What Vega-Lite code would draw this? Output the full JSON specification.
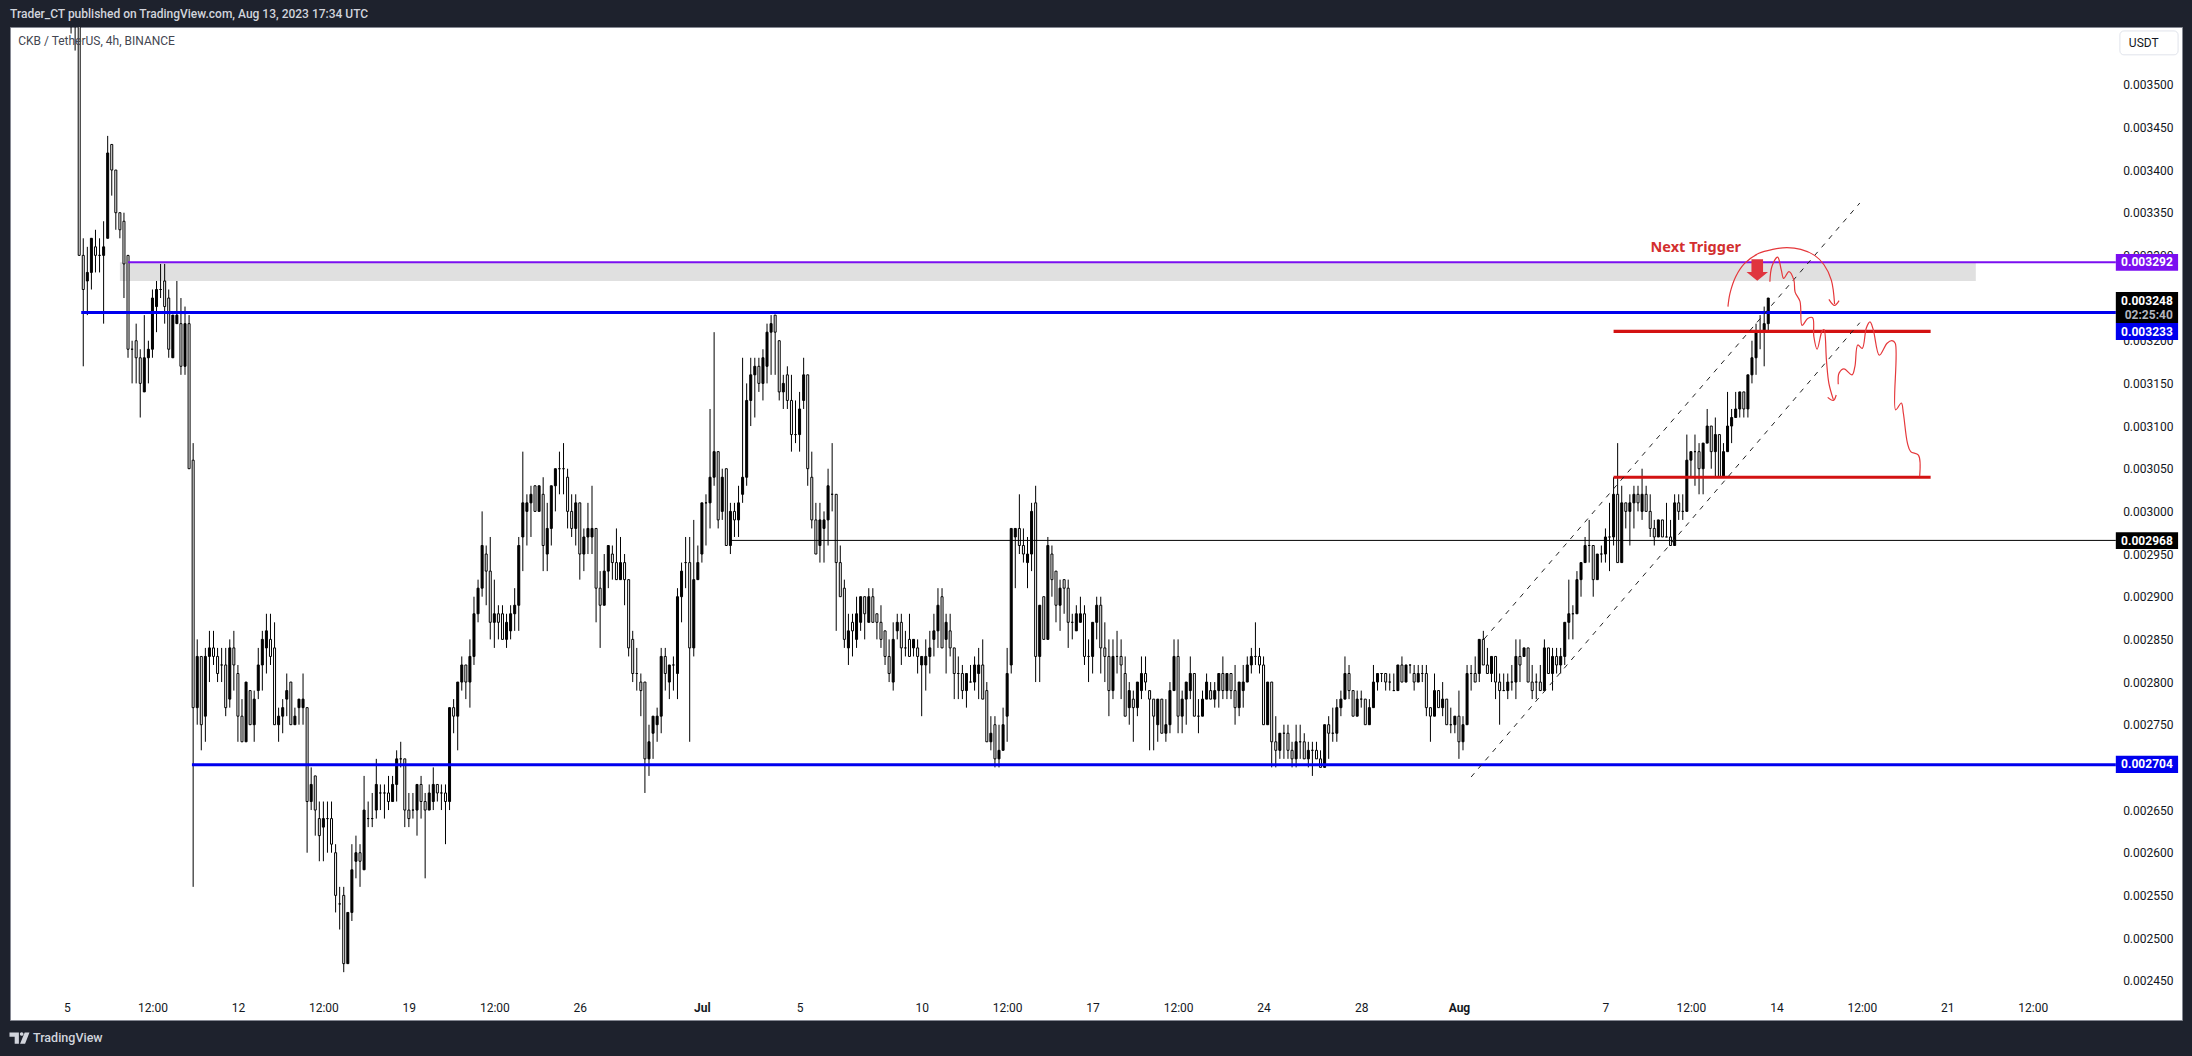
{"$schema":"https://vega.github.io/schema/vega-lite/v6.json","width":2172,"height":993,"autosize":{"type":"none"},"padding":{"left":10,"top":27,"right":10,"bottom":36},"background":"#1e222d","config":{"view":{"fill":"#ffffff","stroke":"#868993"},"font":"Roboto"},
"datasets":{"candles":[
{"b":1,"o":0.0036,"h":0.00365,"l":0.00356,"c":0.00362},
{"b":2,"o":0.00364,"h":0.00366,"l":0.00354,"c":0.00361},
{"b":3,"o":0.0038,"h":0.00385,"l":0.0033,"c":0.0033},
{"b":4,"o":0.0033,"h":0.00332,"l":0.00317,"c":0.00326},
{"b":5,"o":0.00327,"h":0.00331,"l":0.00323,"c":0.00328},
{"b":6,"o":0.00328,"h":0.00332,"l":0.00326,"c":0.00332},
{"b":7,"o":0.00331,"h":0.00333,"l":0.00328,"c":0.0033},
{"b":8,"o":0.0033,"h":0.00332,"l":0.00328,"c":0.0033},
{"b":9,"o":0.0033,"h":0.00334,"l":0.00322,"c":0.00331},
{"b":10,"o":0.00332,"h":0.00344,"l":0.00332,"c":0.00342},
{"b":11,"o":0.00343,"h":0.00343,"l":0.00337,"c":0.0034},
{"b":12,"o":0.0034,"h":0.0034,"l":0.00333,"c":0.00335},
{"b":13,"o":0.00335,"h":0.00335,"l":0.00332,"c":0.00333},
{"b":14,"o":0.00334,"h":0.00335,"l":0.00325,"c":0.00329},
{"b":15,"o":0.0033,"h":0.0033,"l":0.00318,"c":0.00319},
{"b":16,"o":0.00319,"h":0.0032,"l":0.00315,"c":0.00319},
{"b":17,"o":0.0032,"h":0.00322,"l":0.00315,"c":0.00318},
{"b":18,"o":0.00318,"h":0.00319,"l":0.00311,"c":0.00315},
{"b":19,"o":0.00314,"h":0.00323,"l":0.00314,"c":0.00318},
{"b":20,"o":0.00318,"h":0.0032,"l":0.00315,"c":0.00319},
{"b":21,"o":0.00319,"h":0.00326,"l":0.00318,"c":0.00325},
{"b":22,"o":0.00324,"h":0.00327,"l":0.00321,"c":0.00326},
{"b":23,"o":0.00326,"h":0.00329,"l":0.00325,"c":0.00326},
{"b":24,"o":0.00327,"h":0.00329,"l":0.00322,"c":0.00324},
{"b":25,"o":0.00325,"h":0.00326,"l":0.00318,"c":0.00319},
{"b":26,"o":0.00318,"h":0.00323,"l":0.00318,"c":0.00323},
{"b":27,"o":0.00322,"h":0.00327,"l":0.00322,"c":0.00323},
{"b":28,"o":0.00322,"h":0.00325,"l":0.00316,"c":0.00317},
{"b":29,"o":0.00317,"h":0.00324,"l":0.00316,"c":0.00322},
{"b":30,"o":0.00322,"h":0.00323,"l":0.00305,"c":0.00305},
{"b":31,"o":0.00306,"h":0.00308,"l":0.00256,"c":0.00277},
{"b":32,"o":0.00277,"h":0.00285,"l":0.00275,"c":0.00283},
{"b":33,"o":0.00283,"h":0.00283,"l":0.00272,"c":0.00275},
{"b":34,"o":0.00276,"h":0.00284,"l":0.00273,"c":0.00283},
{"b":35,"o":0.00283,"h":0.00286,"l":0.0028,"c":0.00284},
{"b":36,"o":0.00284,"h":0.00286,"l":0.00282,"c":0.00283},
{"b":37,"o":0.00283,"h":0.00284,"l":0.0028,"c":0.00281},
{"b":38,"o":0.00282,"h":0.00284,"l":0.0028,"c":0.00282},
{"b":39,"o":0.00282,"h":0.00284,"l":0.00276,"c":0.00277},
{"b":40,"o":0.00278,"h":0.00285,"l":0.00277,"c":0.00284},
{"b":41,"o":0.00284,"h":0.00286,"l":0.00279,"c":0.00282},
{"b":42,"o":0.00281,"h":0.00282,"l":0.00273,"c":0.00276},
{"b":43,"o":0.00276,"h":0.00278,"l":0.00273,"c":0.00273},
{"b":44,"o":0.00273,"h":0.0028,"l":0.00273,"c":0.0028},
{"b":45,"o":0.00279,"h":0.00279,"l":0.00275,"c":0.00275},
{"b":46,"o":0.00275,"h":0.00279,"l":0.00273,"c":0.00278},
{"b":47,"o":0.00279,"h":0.00284,"l":0.00278,"c":0.00282},
{"b":48,"o":0.00282,"h":0.00286,"l":0.00279,"c":0.00285},
{"b":49,"o":0.00284,"h":0.00288,"l":0.00281,"c":0.00286},
{"b":50,"o":0.00285,"h":0.00288,"l":0.00282,"c":0.00283},
{"b":51,"o":0.00284,"h":0.00287,"l":0.00275,"c":0.00275},
{"b":52,"o":0.00275,"h":0.00277,"l":0.00273,"c":0.00276},
{"b":53,"o":0.00276,"h":0.00278,"l":0.00274,"c":0.00277},
{"b":54,"o":0.00278,"h":0.00281,"l":0.00276,"c":0.00279},
{"b":55,"o":0.0028,"h":0.0028,"l":0.00275,"c":0.00275},
{"b":56,"o":0.00275,"h":0.00277,"l":0.00275,"c":0.00276},
{"b":57,"o":0.00277,"h":0.00278,"l":0.00275,"c":0.00278},
{"b":58,"o":0.00277,"h":0.00281,"l":0.00275,"c":0.00278},
{"b":59,"o":0.00277,"h":0.00277,"l":0.0026,"c":0.00266},
{"b":60,"o":0.00266,"h":0.0027,"l":0.00265,"c":0.00268},
{"b":61,"o":0.00269,"h":0.00269,"l":0.00262,"c":0.00265},
{"b":62,"o":0.00264,"h":0.00266,"l":0.00259,"c":0.00262},
{"b":63,"o":0.00263,"h":0.00266,"l":0.00259,"c":0.00264},
{"b":64,"o":0.00264,"h":0.00266,"l":0.0026,"c":0.00264},
{"b":65,"o":0.00264,"h":0.00266,"l":0.0026,"c":0.00261},
{"b":66,"o":0.0026,"h":0.00261,"l":0.00253,"c":0.00255},
{"b":67,"o":0.00254,"h":0.00256,"l":0.00251,"c":0.00254},
{"b":68,"o":0.00255,"h":0.00256,"l":0.00246,"c":0.00247},
{"b":69,"o":0.00247,"h":0.00253,"l":0.00247,"c":0.00253},
{"b":70,"o":0.00253,"h":0.00261,"l":0.00252,"c":0.00258},
{"b":71,"o":0.00259,"h":0.00262,"l":0.00257,"c":0.0026},
{"b":72,"o":0.0026,"h":0.00261,"l":0.00256,"c":0.00259},
{"b":73,"o":0.00258,"h":0.00269,"l":0.00258,"c":0.00265},
{"b":74,"o":0.00264,"h":0.00266,"l":0.00263,"c":0.00264},
{"b":75,"o":0.00264,"h":0.00267,"l":0.00263,"c":0.00264},
{"b":76,"o":0.00265,"h":0.00271,"l":0.00264,"c":0.00268},
{"b":77,"o":0.00267,"h":0.00268,"l":0.00265,"c":0.00267},
{"b":78,"o":0.00267,"h":0.00268,"l":0.00264,"c":0.00267},
{"b":79,"o":0.00267,"h":0.00269,"l":0.00265,"c":0.00266},
{"b":80,"o":0.00266,"h":0.00269,"l":0.00266,"c":0.00268},
{"b":81,"o":0.00268,"h":0.00272,"l":0.00266,"c":0.00271},
{"b":82,"o":0.00271,"h":0.00273,"l":0.0027,"c":0.00271},
{"b":83,"o":0.00271,"h":0.00271,"l":0.00263,"c":0.00265},
{"b":84,"o":0.00265,"h":0.00267,"l":0.00263,"c":0.00264},
{"b":85,"o":0.00265,"h":0.00267,"l":0.00264,"c":0.00265},
{"b":86,"o":0.00265,"h":0.00268,"l":0.00262,"c":0.00268},
{"b":87,"o":0.00268,"h":0.00269,"l":0.00264,"c":0.00266},
{"b":88,"o":0.00266,"h":0.00267,"l":0.00257,"c":0.00265},
{"b":89,"o":0.00265,"h":0.00268,"l":0.00265,"c":0.00267},
{"b":90,"o":0.00266,"h":0.0027,"l":0.00265,"c":0.00268},
{"b":91,"o":0.00268,"h":0.00268,"l":0.00266,"c":0.00267},
{"b":92,"o":0.00267,"h":0.00268,"l":0.00265,"c":0.00267},
{"b":93,"o":0.00267,"h":0.00268,"l":0.00261,"c":0.00266},
{"b":94,"o":0.00266,"h":0.00277,"l":0.00265,"c":0.00277},
{"b":95,"o":0.00277,"h":0.00278,"l":0.00274,"c":0.00276},
{"b":96,"o":0.00276,"h":0.0028,"l":0.00272,"c":0.0028},
{"b":97,"o":0.0028,"h":0.00283,"l":0.00279,"c":0.00282},
{"b":98,"o":0.00282,"h":0.00282,"l":0.00278,"c":0.0028},
{"b":99,"o":0.0028,"h":0.00285,"l":0.00277,"c":0.00283},
{"b":100,"o":0.00283,"h":0.0029,"l":0.00282,"c":0.00288},
{"b":101,"o":0.00288,"h":0.00292,"l":0.00287,"c":0.00291},
{"b":102,"o":0.00291,"h":0.003,"l":0.0029,"c":0.00296},
{"b":103,"o":0.00295,"h":0.00296,"l":0.00289,"c":0.00293},
{"b":104,"o":0.00293,"h":0.00297,"l":0.00285,"c":0.00287},
{"b":105,"o":0.00287,"h":0.00292,"l":0.00284,"c":0.00288},
{"b":106,"o":0.00288,"h":0.00289,"l":0.00285,"c":0.00287},
{"b":107,"o":0.00288,"h":0.00289,"l":0.00285,"c":0.00285},
{"b":108,"o":0.00285,"h":0.00288,"l":0.00284,"c":0.00287},
{"b":109,"o":0.00286,"h":0.00289,"l":0.00285,"c":0.00288},
{"b":110,"o":0.00288,"h":0.00291,"l":0.00286,"c":0.00289},
{"b":111,"o":0.00289,"h":0.00297,"l":0.00286,"c":0.00296},
{"b":112,"o":0.00297,"h":0.00307,"l":0.00293,"c":0.00301},
{"b":113,"o":0.003,"h":0.00302,"l":0.00296,"c":0.00301},
{"b":114,"o":0.00301,"h":0.00303,"l":0.00297,"c":0.00302},
{"b":115,"o":0.00303,"h":0.00303,"l":0.003,"c":0.003},
{"b":116,"o":0.003,"h":0.00303,"l":0.003,"c":0.00303},
{"b":117,"o":0.00302,"h":0.00304,"l":0.00293,"c":0.00296},
{"b":118,"o":0.00295,"h":0.00301,"l":0.00293,"c":0.00298},
{"b":119,"o":0.00298,"h":0.00303,"l":0.00296,"c":0.00303},
{"b":120,"o":0.00303,"h":0.00305,"l":0.003,"c":0.00305},
{"b":121,"o":0.00305,"h":0.00307,"l":0.00302,"c":0.00305},
{"b":122,"o":0.00305,"h":0.00308,"l":0.00302,"c":0.00305},
{"b":123,"o":0.00304,"h":0.00305,"l":0.00298,"c":0.003},
{"b":124,"o":0.003,"h":0.00302,"l":0.00297,"c":0.00298},
{"b":125,"o":0.00298,"h":0.00302,"l":0.00296,"c":0.00301},
{"b":126,"o":0.00301,"h":0.00301,"l":0.00292,"c":0.00295},
{"b":127,"o":0.00295,"h":0.00298,"l":0.00293,"c":0.00297},
{"b":128,"o":0.00297,"h":0.00301,"l":0.00295,"c":0.00298},
{"b":129,"o":0.00297,"h":0.00303,"l":0.00295,"c":0.00298},
{"b":130,"o":0.00298,"h":0.00298,"l":0.00287,"c":0.00291},
{"b":131,"o":0.00291,"h":0.00293,"l":0.00284,"c":0.00289},
{"b":132,"o":0.00289,"h":0.00295,"l":0.00289,"c":0.00293},
{"b":133,"o":0.00293,"h":0.00296,"l":0.00291,"c":0.00296},
{"b":134,"o":0.00295,"h":0.00296,"l":0.00292,"c":0.00294},
{"b":135,"o":0.00294,"h":0.00298,"l":0.00292,"c":0.00292},
{"b":136,"o":0.00292,"h":0.00297,"l":0.00292,"c":0.00294},
{"b":137,"o":0.00294,"h":0.00295,"l":0.00289,"c":0.00292},
{"b":138,"o":0.00292,"h":0.00292,"l":0.00283,"c":0.00284},
{"b":139,"o":0.00285,"h":0.00286,"l":0.0028,"c":0.00281},
{"b":140,"o":0.00281,"h":0.00284,"l":0.00279,"c":0.00281},
{"b":141,"o":0.0028,"h":0.00281,"l":0.00276,"c":0.00279},
{"b":142,"o":0.0028,"h":0.0028,"l":0.00267,"c":0.00271},
{"b":143,"o":0.00271,"h":0.00275,"l":0.00269,"c":0.00273},
{"b":144,"o":0.00274,"h":0.00276,"l":0.00271,"c":0.00276},
{"b":145,"o":0.00275,"h":0.00277,"l":0.00273,"c":0.00276},
{"b":146,"o":0.00276,"h":0.00284,"l":0.00274,"c":0.00283},
{"b":147,"o":0.00283,"h":0.00284,"l":0.00279,"c":0.00281},
{"b":148,"o":0.0028,"h":0.00282,"l":0.00278,"c":0.00282},
{"b":149,"o":0.00282,"h":0.00283,"l":0.00279,"c":0.00282},
{"b":150,"o":0.00281,"h":0.00291,"l":0.00278,"c":0.0029},
{"b":151,"o":0.0029,"h":0.00294,"l":0.00287,"c":0.00293},
{"b":152,"o":0.00294,"h":0.00297,"l":0.00291,"c":0.00294},
{"b":153,"o":0.00294,"h":0.00297,"l":0.00273,"c":0.00284},
{"b":154,"o":0.00284,"h":0.00299,"l":0.00283,"c":0.00292},
{"b":155,"o":0.00292,"h":0.00296,"l":0.00292,"c":0.00294},
{"b":156,"o":0.00295,"h":0.00301,"l":0.00294,"c":0.00301},
{"b":157,"o":0.00301,"h":0.00302,"l":0.00296,"c":0.00301},
{"b":158,"o":0.00301,"h":0.00312,"l":0.00298,"c":0.00304},
{"b":159,"o":0.00304,"h":0.00321,"l":0.00303,"c":0.00307},
{"b":160,"o":0.00307,"h":0.00307,"l":0.00298,"c":0.00299},
{"b":161,"o":0.003,"h":0.00305,"l":0.00299,"c":0.00304},
{"b":162,"o":0.00305,"h":0.00305,"l":0.00296,"c":0.00296},
{"b":163,"o":0.00296,"h":0.00301,"l":0.00295,"c":0.003},
{"b":164,"o":0.003,"h":0.00301,"l":0.00297,"c":0.00299},
{"b":165,"o":0.00299,"h":0.00303,"l":0.00297,"c":0.00301},
{"b":166,"o":0.00302,"h":0.00318,"l":0.00301,"c":0.00304},
{"b":167,"o":0.00304,"h":0.00315,"l":0.00303,"c":0.00313},
{"b":168,"o":0.00313,"h":0.00318,"l":0.0031,"c":0.00316},
{"b":169,"o":0.00316,"h":0.00318,"l":0.00311,"c":0.00317},
{"b":170,"o":0.00317,"h":0.00318,"l":0.00314,"c":0.00315},
{"b":171,"o":0.00315,"h":0.00319,"l":0.00313,"c":0.00318},
{"b":172,"o":0.00317,"h":0.00322,"l":0.00315,"c":0.00321},
{"b":173,"o":0.00321,"h":0.00323,"l":0.00316,"c":0.00322},
{"b":174,"o":0.00323,"h":0.00323,"l":0.00316,"c":0.00321},
{"b":175,"o":0.0032,"h":0.0032,"l":0.00313,"c":0.00314},
{"b":176,"o":0.00314,"h":0.00316,"l":0.00312,"c":0.00315},
{"b":177,"o":0.00316,"h":0.00317,"l":0.00312,"c":0.00313},
{"b":178,"o":0.00313,"h":0.00316,"l":0.00307,"c":0.00309},
{"b":179,"o":0.00309,"h":0.00313,"l":0.00308,"c":0.00309},
{"b":180,"o":0.00309,"h":0.00314,"l":0.00307,"c":0.00312},
{"b":181,"o":0.00313,"h":0.00318,"l":0.00312,"c":0.00316},
{"b":182,"o":0.00316,"h":0.00316,"l":0.00303,"c":0.00305},
{"b":183,"o":0.00304,"h":0.00307,"l":0.00298,"c":0.00299},
{"b":184,"o":0.00299,"h":0.00301,"l":0.00295,"c":0.00295},
{"b":185,"o":0.00296,"h":0.00301,"l":0.00294,"c":0.00299},
{"b":186,"o":0.00298,"h":0.003,"l":0.00294,"c":0.00299},
{"b":187,"o":0.00299,"h":0.00305,"l":0.00296,"c":0.00303},
{"b":188,"o":0.00302,"h":0.00308,"l":0.003,"c":0.00302},
{"b":189,"o":0.00302,"h":0.00302,"l":0.00286,"c":0.00294},
{"b":190,"o":0.00294,"h":0.00296,"l":0.0029,"c":0.0029},
{"b":191,"o":0.00291,"h":0.00292,"l":0.00284,"c":0.00285},
{"b":192,"o":0.00284,"h":0.00288,"l":0.00282,"c":0.00286},
{"b":193,"o":0.00287,"h":0.00288,"l":0.00283,"c":0.00286},
{"b":194,"o":0.00285,"h":0.0029,"l":0.00284,"c":0.00288},
{"b":195,"o":0.00287,"h":0.0029,"l":0.00286,"c":0.0029},
{"b":196,"o":0.0029,"h":0.0029,"l":0.00285,"c":0.00288},
{"b":197,"o":0.00287,"h":0.00291,"l":0.00287,"c":0.0029},
{"b":198,"o":0.0029,"h":0.00291,"l":0.00287,"c":0.00287},
{"b":199,"o":0.00288,"h":0.00288,"l":0.00285,"c":0.00287},
{"b":200,"o":0.00287,"h":0.00289,"l":0.00284,"c":0.00285},
{"b":201,"o":0.00286,"h":0.00286,"l":0.00282,"c":0.00283},
{"b":202,"o":0.00283,"h":0.00285,"l":0.0028,"c":0.00281},
{"b":203,"o":0.0028,"h":0.00287,"l":0.00279,"c":0.00285},
{"b":204,"o":0.00286,"h":0.00288,"l":0.00285,"c":0.00287},
{"b":205,"o":0.00287,"h":0.00288,"l":0.00282,"c":0.00284},
{"b":206,"o":0.00284,"h":0.00286,"l":0.00283,"c":0.00284},
{"b":207,"o":0.00285,"h":0.00288,"l":0.00283,"c":0.00283},
{"b":208,"o":0.00284,"h":0.00285,"l":0.00283,"c":0.00285},
{"b":209,"o":0.00284,"h":0.00285,"l":0.00281,"c":0.00283},
{"b":210,"o":0.00282,"h":0.00283,"l":0.00276,"c":0.00283},
{"b":211,"o":0.00282,"h":0.00285,"l":0.00279,"c":0.00283},
{"b":212,"o":0.00283,"h":0.00286,"l":0.00281,"c":0.00284},
{"b":213,"o":0.00285,"h":0.00288,"l":0.00283,"c":0.00286},
{"b":214,"o":0.00286,"h":0.00291,"l":0.00284,"c":0.00289},
{"b":215,"o":0.0029,"h":0.00291,"l":0.00284,"c":0.00284},
{"b":216,"o":0.00285,"h":0.00288,"l":0.00281,"c":0.00287},
{"b":217,"o":0.00286,"h":0.00288,"l":0.00283,"c":0.00284},
{"b":218,"o":0.00284,"h":0.00284,"l":0.00278,"c":0.00281},
{"b":219,"o":0.00281,"h":0.00283,"l":0.00278,"c":0.00281},
{"b":220,"o":0.00281,"h":0.00282,"l":0.00278,"c":0.00279},
{"b":221,"o":0.00279,"h":0.00281,"l":0.00277,"c":0.00281},
{"b":222,"o":0.0028,"h":0.00282,"l":0.0028,"c":0.0028},
{"b":223,"o":0.0028,"h":0.00283,"l":0.00279,"c":0.00282},
{"b":224,"o":0.00281,"h":0.00284,"l":0.00278,"c":0.00282},
{"b":225,"o":0.00282,"h":0.00285,"l":0.00278,"c":0.00278},
{"b":226,"o":0.00279,"h":0.0028,"l":0.00273,"c":0.00273},
{"b":227,"o":0.00273,"h":0.00276,"l":0.00272,"c":0.00274},
{"b":228,"o":0.00275,"h":0.00276,"l":0.0027,"c":0.00271},
{"b":229,"o":0.00271,"h":0.00275,"l":0.0027,"c":0.00272},
{"b":230,"o":0.00272,"h":0.00277,"l":0.00272,"c":0.00275},
{"b":231,"o":0.00276,"h":0.00284,"l":0.00273,"c":0.00281},
{"b":232,"o":0.00282,"h":0.00298,"l":0.00281,"c":0.00298},
{"b":233,"o":0.00297,"h":0.00298,"l":0.00291,"c":0.00298},
{"b":234,"o":0.00298,"h":0.00302,"l":0.00295,"c":0.00296},
{"b":235,"o":0.00296,"h":0.00298,"l":0.00294,"c":0.00295},
{"b":236,"o":0.00294,"h":0.00297,"l":0.00291,"c":0.00295},
{"b":237,"o":0.00295,"h":0.00301,"l":0.00293,"c":0.003},
{"b":238,"o":0.00301,"h":0.00303,"l":0.0028,"c":0.00283},
{"b":239,"o":0.00283,"h":0.00289,"l":0.0028,"c":0.00289},
{"b":240,"o":0.0029,"h":0.0029,"l":0.00285,"c":0.00285},
{"b":241,"o":0.00285,"h":0.00297,"l":0.00285,"c":0.00296},
{"b":242,"o":0.00295,"h":0.00296,"l":0.0029,"c":0.00292},
{"b":243,"o":0.00293,"h":0.00293,"l":0.00287,"c":0.00289},
{"b":244,"o":0.00289,"h":0.00292,"l":0.00286,"c":0.00291},
{"b":245,"o":0.00292,"h":0.00292,"l":0.00288,"c":0.00291},
{"b":246,"o":0.00291,"h":0.00292,"l":0.00284,"c":0.00287},
{"b":247,"o":0.00287,"h":0.00288,"l":0.00285,"c":0.00287},
{"b":248,"o":0.00286,"h":0.00289,"l":0.00286,"c":0.00288},
{"b":249,"o":0.00287,"h":0.0029,"l":0.00287,"c":0.00288},
{"b":250,"o":0.00288,"h":0.00289,"l":0.00282,"c":0.00283},
{"b":251,"o":0.00283,"h":0.00285,"l":0.0028,"c":0.00283},
{"b":252,"o":0.00283,"h":0.00287,"l":0.00281,"c":0.00287},
{"b":253,"o":0.00287,"h":0.0029,"l":0.00285,"c":0.00289},
{"b":254,"o":0.00289,"h":0.0029,"l":0.00281,"c":0.00284},
{"b":255,"o":0.00284,"h":0.00287,"l":0.0028,"c":0.00283},
{"b":256,"o":0.00283,"h":0.00285,"l":0.00276,"c":0.00279},
{"b":257,"o":0.00279,"h":0.00285,"l":0.00278,"c":0.00283},
{"b":258,"o":0.00283,"h":0.00286,"l":0.00281,"c":0.00283},
{"b":259,"o":0.00283,"h":0.00285,"l":0.00278,"c":0.00282},
{"b":260,"o":0.00281,"h":0.00283,"l":0.00276,"c":0.00276},
{"b":261,"o":0.00277,"h":0.0028,"l":0.00275,"c":0.00279},
{"b":262,"o":0.00278,"h":0.00279,"l":0.00273,"c":0.00277},
{"b":263,"o":0.00277,"h":0.0028,"l":0.00276,"c":0.0028},
{"b":264,"o":0.00279,"h":0.00283,"l":0.00278,"c":0.00281},
{"b":265,"o":0.00281,"h":0.00283,"l":0.00279,"c":0.0028},
{"b":266,"o":0.00279,"h":0.00279,"l":0.00272,"c":0.00278},
{"b":267,"o":0.00278,"h":0.00278,"l":0.00272,"c":0.00276},
{"b":268,"o":0.00275,"h":0.00278,"l":0.00273,"c":0.00278},
{"b":269,"o":0.00278,"h":0.00278,"l":0.00274,"c":0.00274},
{"b":270,"o":0.00274,"h":0.00278,"l":0.00273,"c":0.00275},
{"b":271,"o":0.00275,"h":0.0028,"l":0.00274,"c":0.00279},
{"b":272,"o":0.00279,"h":0.00285,"l":0.00279,"c":0.00283},
{"b":273,"o":0.00283,"h":0.00285,"l":0.00274,"c":0.00276},
{"b":274,"o":0.00276,"h":0.00279,"l":0.00274,"c":0.00278},
{"b":275,"o":0.00278,"h":0.0028,"l":0.00275,"c":0.0028},
{"b":276,"o":0.00279,"h":0.00283,"l":0.00278,"c":0.00281},
{"b":277,"o":0.00281,"h":0.00281,"l":0.00276,"c":0.00276},
{"b":278,"o":0.00276,"h":0.00278,"l":0.00274,"c":0.00276},
{"b":279,"o":0.00276,"h":0.00279,"l":0.00276,"c":0.00278},
{"b":280,"o":0.00278,"h":0.00281,"l":0.00278,"c":0.0028},
{"b":281,"o":0.00279,"h":0.0028,"l":0.00278,"c":0.00278},
{"b":282,"o":0.00278,"h":0.0028,"l":0.00277,"c":0.00279},
{"b":283,"o":0.00279,"h":0.00281,"l":0.00277,"c":0.00281},
{"b":284,"o":0.00281,"h":0.00283,"l":0.00278,"c":0.00279},
{"b":285,"o":0.00279,"h":0.00281,"l":0.00278,"c":0.00281},
{"b":286,"o":0.00281,"h":0.00281,"l":0.00278,"c":0.00279},
{"b":287,"o":0.00279,"h":0.00282,"l":0.00275,"c":0.00277},
{"b":288,"o":0.00277,"h":0.0028,"l":0.00276,"c":0.0028},
{"b":289,"o":0.00279,"h":0.00282,"l":0.00277,"c":0.0028},
{"b":290,"o":0.0028,"h":0.00283,"l":0.0028,"c":0.00282},
{"b":291,"o":0.00282,"h":0.00284,"l":0.00281,"c":0.00283},
{"b":292,"o":0.00283,"h":0.00287,"l":0.00282,"c":0.00283},
{"b":293,"o":0.00283,"h":0.00284,"l":0.00281,"c":0.00282},
{"b":294,"o":0.00282,"h":0.00283,"l":0.00275,"c":0.00275},
{"b":295,"o":0.00275,"h":0.0028,"l":0.00275,"c":0.0028},
{"b":296,"o":0.0028,"h":0.0028,"l":0.0027,"c":0.00273},
{"b":297,"o":0.00273,"h":0.00276,"l":0.0027,"c":0.00272},
{"b":298,"o":0.00272,"h":0.00274,"l":0.00271,"c":0.00274},
{"b":299,"o":0.00274,"h":0.00275,"l":0.00271,"c":0.00274},
{"b":300,"o":0.00274,"h":0.00275,"l":0.00271,"c":0.00272},
{"b":301,"o":0.00272,"h":0.00273,"l":0.0027,"c":0.00271},
{"b":302,"o":0.00271,"h":0.00275,"l":0.0027,"c":0.00273},
{"b":303,"o":0.00273,"h":0.00275,"l":0.00271,"c":0.00273},
{"b":304,"o":0.00273,"h":0.00274,"l":0.00271,"c":0.00271},
{"b":305,"o":0.00271,"h":0.00273,"l":0.0027,"c":0.00272},
{"b":306,"o":0.00272,"h":0.00273,"l":0.00269,"c":0.00272},
{"b":307,"o":0.00272,"h":0.00273,"l":0.00271,"c":0.00271},
{"b":308,"o":0.00271,"h":0.00272,"l":0.0027,"c":0.0027},
{"b":309,"o":0.0027,"h":0.00275,"l":0.0027,"c":0.00275},
{"b":310,"o":0.00275,"h":0.00276,"l":0.00271,"c":0.00274},
{"b":311,"o":0.00274,"h":0.00277,"l":0.00273,"c":0.00274},
{"b":312,"o":0.00274,"h":0.00278,"l":0.00273,"c":0.00277},
{"b":313,"o":0.00277,"h":0.00279,"l":0.00276,"c":0.00278},
{"b":314,"o":0.00278,"h":0.00283,"l":0.00278,"c":0.00281},
{"b":315,"o":0.00281,"h":0.00282,"l":0.00278,"c":0.00279},
{"b":316,"o":0.00279,"h":0.00279,"l":0.00276,"c":0.00276},
{"b":317,"o":0.00276,"h":0.00279,"l":0.00276,"c":0.00278},
{"b":318,"o":0.00278,"h":0.00279,"l":0.00277,"c":0.00278},
{"b":319,"o":0.00278,"h":0.00278,"l":0.00275,"c":0.00275},
{"b":320,"o":0.00275,"h":0.00278,"l":0.00275,"c":0.00277},
{"b":321,"o":0.00277,"h":0.00282,"l":0.00277,"c":0.0028},
{"b":322,"o":0.0028,"h":0.00281,"l":0.00279,"c":0.00281},
{"b":323,"o":0.00281,"h":0.00281,"l":0.0028,"c":0.00281},
{"b":324,"o":0.00281,"h":0.00281,"l":0.00279,"c":0.0028},
{"b":325,"o":0.0028,"h":0.00281,"l":0.00279,"c":0.0028},
{"b":326,"o":0.00279,"h":0.00281,"l":0.00279,"c":0.00279},
{"b":327,"o":0.00279,"h":0.00282,"l":0.00279,"c":0.00282},
{"b":328,"o":0.00282,"h":0.00283,"l":0.0028,"c":0.0028},
{"b":329,"o":0.0028,"h":0.00282,"l":0.0028,"c":0.00282},
{"b":330,"o":0.00282,"h":0.00282,"l":0.00281,"c":0.00282},
{"b":331,"o":0.00281,"h":0.00282,"l":0.00279,"c":0.0028},
{"b":332,"o":0.0028,"h":0.00282,"l":0.0028,"c":0.00281},
{"b":333,"o":0.00281,"h":0.00282,"l":0.0028,"c":0.00281},
{"b":334,"o":0.00281,"h":0.00282,"l":0.00276,"c":0.00277},
{"b":335,"o":0.00277,"h":0.00277,"l":0.00273,"c":0.00276},
{"b":336,"o":0.00276,"h":0.00281,"l":0.00276,"c":0.00279},
{"b":337,"o":0.00279,"h":0.00279,"l":0.00277,"c":0.00277},
{"b":338,"o":0.00277,"h":0.0028,"l":0.00276,"c":0.00278},
{"b":339,"o":0.00278,"h":0.00278,"l":0.00275,"c":0.00275},
{"b":340,"o":0.00275,"h":0.00277,"l":0.00274,"c":0.00275},
{"b":341,"o":0.00275,"h":0.00276,"l":0.00274,"c":0.00276},
{"b":342,"o":0.00276,"h":0.00279,"l":0.00271,"c":0.00273},
{"b":343,"o":0.00273,"h":0.00276,"l":0.00272,"c":0.00275},
{"b":344,"o":0.00275,"h":0.00282,"l":0.00275,"c":0.00281},
{"b":345,"o":0.00281,"h":0.00282,"l":0.00279,"c":0.00281},
{"b":346,"o":0.00281,"h":0.00283,"l":0.0028,"c":0.0028},
{"b":347,"o":0.00281,"h":0.00285,"l":0.0028,"c":0.00285},
{"b":348,"o":0.00285,"h":0.00286,"l":0.00282,"c":0.00282},
{"b":349,"o":0.00282,"h":0.00284,"l":0.00281,"c":0.00281},
{"b":350,"o":0.00281,"h":0.00283,"l":0.0028,"c":0.00283},
{"b":351,"o":0.00283,"h":0.00283,"l":0.00278,"c":0.0028},
{"b":352,"o":0.0028,"h":0.00281,"l":0.00275,"c":0.00279},
{"b":353,"o":0.00279,"h":0.00281,"l":0.00279,"c":0.00279},
{"b":354,"o":0.00279,"h":0.00281,"l":0.00278,"c":0.0028},
{"b":355,"o":0.0028,"h":0.00282,"l":0.00279,"c":0.0028},
{"b":356,"o":0.0028,"h":0.00285,"l":0.00278,"c":0.00283},
{"b":357,"o":0.00283,"h":0.00285,"l":0.0028,"c":0.00282},
{"b":358,"o":0.00283,"h":0.00284,"l":0.00283,"c":0.00284},
{"b":359,"o":0.00284,"h":0.00284,"l":0.0028,"c":0.0028},
{"b":360,"o":0.0028,"h":0.00282,"l":0.00278,"c":0.00279},
{"b":361,"o":0.0028,"h":0.00281,"l":0.00278,"c":0.0028},
{"b":362,"o":0.0028,"h":0.00282,"l":0.00279,"c":0.00279},
{"b":363,"o":0.00279,"h":0.00285,"l":0.00279,"c":0.00284},
{"b":364,"o":0.00284,"h":0.00284,"l":0.00281,"c":0.00281},
{"b":365,"o":0.00281,"h":0.00284,"l":0.00279,"c":0.00283},
{"b":366,"o":0.00283,"h":0.00284,"l":0.00281,"c":0.00282},
{"b":367,"o":0.00282,"h":0.00284,"l":0.00281,"c":0.00283},
{"b":368,"o":0.00283,"h":0.00287,"l":0.00282,"c":0.00287},
{"b":369,"o":0.00287,"h":0.00292,"l":0.00285,"c":0.00288},
{"b":370,"o":0.00288,"h":0.00289,"l":0.00285,"c":0.00288},
{"b":371,"o":0.00288,"h":0.00293,"l":0.00288,"c":0.00292},
{"b":372,"o":0.00292,"h":0.00294,"l":0.0029,"c":0.00294},
{"b":373,"o":0.00294,"h":0.00297,"l":0.00294,"c":0.00296},
{"b":374,"o":0.00296,"h":0.00299,"l":0.00294,"c":0.00296},
{"b":375,"o":0.00296,"h":0.00296,"l":0.0029,"c":0.00292},
{"b":376,"o":0.00292,"h":0.00295,"l":0.00292,"c":0.00295},
{"b":377,"o":0.00295,"h":0.00296,"l":0.00294,"c":0.00295},
{"b":378,"o":0.00295,"h":0.00298,"l":0.00294,"c":0.00297},
{"b":379,"o":0.00297,"h":0.00301,"l":0.00293,"c":0.00297},
{"b":380,"o":0.00297,"h":0.00304,"l":0.00296,"c":0.00302},
{"b":381,"o":0.00302,"h":0.00308,"l":0.00294,"c":0.00294},
{"b":382,"o":0.00294,"h":0.00303,"l":0.00294,"c":0.00301},
{"b":383,"o":0.00301,"h":0.00301,"l":0.00298,"c":0.003},
{"b":384,"o":0.003,"h":0.00302,"l":0.00296,"c":0.00301},
{"b":385,"o":0.00301,"h":0.00303,"l":0.00298,"c":0.00302},
{"b":386,"o":0.00302,"h":0.00303,"l":0.003,"c":0.00301},
{"b":387,"o":0.003,"h":0.00305,"l":0.00299,"c":0.00302},
{"b":388,"o":0.00302,"h":0.00303,"l":0.003,"c":0.003},
{"b":389,"o":0.003,"h":0.00302,"l":0.00297,"c":0.00298},
{"b":390,"o":0.00298,"h":0.00299,"l":0.00296,"c":0.00297},
{"b":391,"o":0.00297,"h":0.00299,"l":0.00297,"c":0.00299},
{"b":392,"o":0.00299,"h":0.00299,"l":0.00297,"c":0.00297},
{"b":393,"o":0.00297,"h":0.00301,"l":0.00297,"c":0.00297},
{"b":394,"o":0.00297,"h":0.00299,"l":0.00296,"c":0.00296},
{"b":395,"o":0.00296,"h":0.00302,"l":0.00296,"c":0.00301},
{"b":396,"o":0.00301,"h":0.00302,"l":0.00299,"c":0.003},
{"b":397,"o":0.003,"h":0.00302,"l":0.00299,"c":0.003},
{"b":398,"o":0.003,"h":0.00309,"l":0.003,"c":0.00306},
{"b":399,"o":0.00306,"h":0.00307,"l":0.00304,"c":0.00307},
{"b":400,"o":0.00307,"h":0.00309,"l":0.00303,"c":0.00307},
{"b":401,"o":0.00307,"h":0.00308,"l":0.00302,"c":0.00305},
{"b":402,"o":0.00305,"h":0.00308,"l":0.00302,"c":0.00308},
{"b":403,"o":0.00308,"h":0.00312,"l":0.00308,"c":0.0031},
{"b":404,"o":0.0031,"h":0.0031,"l":0.00305,"c":0.00307},
{"b":405,"o":0.00307,"h":0.00311,"l":0.00304,"c":0.00309},
{"b":406,"o":0.00309,"h":0.00309,"l":0.00304,"c":0.00304},
{"b":407,"o":0.00304,"h":0.00308,"l":0.00304,"c":0.00307},
{"b":408,"o":0.00307,"h":0.00314,"l":0.00307,"c":0.0031},
{"b":409,"o":0.0031,"h":0.00312,"l":0.00308,"c":0.00311},
{"b":410,"o":0.00311,"h":0.00314,"l":0.00311,"c":0.00312},
{"b":411,"o":0.00312,"h":0.00314,"l":0.00311,"c":0.00314},
{"b":412,"o":0.00314,"h":0.00314,"l":0.00311,"c":0.00312},
{"b":413,"o":0.00312,"h":0.00316,"l":0.00311,"c":0.00316},
{"b":414,"o":0.00316,"h":0.0032,"l":0.00315,"c":0.00318},
{"b":415,"o":0.00318,"h":0.00322,"l":0.00316,"c":0.00321},
{"b":416,"o":0.00321,"h":0.00323,"l":0.00319,"c":0.00321},
{"b":417,"o":0.00321,"h":0.00324,"l":0.00317,"c":0.00322},
{"b":418,"o":0.00322,"h":0.00325,"l":0.00321,"c":0.00325}
],
"levels":[
{"kind":"purple","from":15,"to":503.4,"p":0.003292},
{"kind":"blue","from":3.5,"to":503.4,"p":0.003233},
{"kind":"blue","from":30.7,"to":503.4,"p":0.002703},
{"kind":"black","from":163,"to":503.4,"p":0.002966},
{"kind":"red","from":380,"to":457.9,"p":0.003211},
{"kind":"red","from":380,"to":457.9,"p":0.00304}
],
"channel":[
{"b1":348.2,"p1":0.00285043,"b2":440.5,"p2":0.00336137},
{"b1":345,"p1":0.00268871,"b2":440.5,"p2":0.00322109}
],
"sketch":[
{"id":"arc","n":0,"b":408.1,"p":0.00324},{"id":"arc","n":1,"b":408.6,"p":0.0032555},{"id":"arc","n":2,"b":410,"p":0.003275},{"id":"arc","n":3,"b":412.2,"p":0.0032906},{"id":"arc","n":4,"b":415.7,"p":0.0033024},{"id":"arc","n":5,"b":419.1,"p":0.003307},{"id":"arc","n":6,"b":422.6,"p":0.003309},{"id":"arc","n":7,"b":426,"p":0.003307},{"id":"arc","n":8,"b":429.4,"p":0.0033},{"id":"arc","n":9,"b":431.7,"p":0.003289},{"id":"arc","n":10,"b":433.5,"p":0.003271},{"id":"arc","n":11,"b":434.3,"p":0.003243},
{"id":"head1","n":0,"b":432.9,"p":0.0032485},{"id":"head1","n":1,"b":434.3,"p":0.0032414},{"id":"head1","n":2,"b":435.4,"p":0.003247},
{"id":"w1","n":0,"b":418.4,"p":0.003269},{"id":"w1","n":1,"b":418.9,"p":0.003287},{"id":"w1","n":2,"b":420.3,"p":0.003298},{"id":"w1","n":3,"b":421.2,"p":0.003283},{"id":"w1","n":4,"b":421.8,"p":0.003273},{"id":"w1","n":5,"b":423.1,"p":0.003281},{"id":"w1","n":6,"b":424.3,"p":0.003271},{"id":"w1","n":7,"b":424.6,"p":0.003257},{"id":"w1","n":8,"b":425.8,"p":0.003246},{"id":"w1","n":9,"b":426.3,"p":0.003218},{"id":"w1","n":10,"b":427.7,"p":0.003226},{"id":"w1","n":11,"b":428.9,"p":0.003227},{"id":"w1","n":12,"b":429.2,"p":0.003205},{"id":"w1","n":13,"b":430,"p":0.00319},{"id":"w1","n":14,"b":431.2,"p":0.003211},{"id":"w1","n":15,"b":431.7,"p":0.003213},{"id":"w1","n":16,"b":432.3,"p":0.003177},{"id":"w1","n":17,"b":432.9,"p":0.00315},{"id":"w1","n":18,"b":434,"p":0.003131},
{"id":"head2","n":0,"b":432.6,"p":0.0031336},{"id":"head2","n":1,"b":434,"p":0.00313},{"id":"head2","n":2,"b":434.7,"p":0.0031364},
{"id":"w2","n":0,"b":435.2,"p":0.003149},{"id":"w2","n":1,"b":435.4,"p":0.003162},{"id":"w2","n":2,"b":436.6,"p":0.003167},{"id":"w2","n":3,"b":438.6,"p":0.00316},{"id":"w2","n":4,"b":439.3,"p":0.00317},{"id":"w2","n":5,"b":440,"p":0.003195},{"id":"w2","n":6,"b":441.1,"p":0.003191},{"id":"w2","n":7,"b":442.1,"p":0.003215},{"id":"w2","n":8,"b":443,"p":0.003222},{"id":"w2","n":9,"b":443.8,"p":0.003213},{"id":"w2","n":10,"b":445.3,"p":0.003183},{"id":"w2","n":11,"b":447.2,"p":0.003197},{"id":"w2","n":12,"b":448.4,"p":0.0032},{"id":"w2","n":13,"b":449.2,"p":0.003197},{"id":"w2","n":14,"b":449.3,"p":0.003119},{"id":"w2","n":15,"b":450.7,"p":0.003127},{"id":"w2","n":16,"b":451.2,"p":0.003115},{"id":"w2","n":17,"b":452.2,"p":0.00308},{"id":"w2","n":18,"b":453,"p":0.00307},{"id":"w2","n":19,"b":454.9,"p":0.003066},{"id":"w2","n":20,"b":455.2,"p":0.003041}
],
"tags":[
{"kind":"purple","hi":0.0033016,"lo":0.003282},
{"kind":"black","hi":0.0032571,"lo":0.0032207},
{"kind":"blue","hi":0.0032207,"lo":0.0032008},
{"kind":"black","hi":0.0029754,"lo":0.0029559},
{"kind":"blue","hi":0.0027135,"lo":0.0026935}
],
"tagText":[
{"txt":"0.003292","p":0.0032918,"main":true},
{"txt":"0.003248","p":0.0032465,"main":true},
{"txt":"02:25:40","p":0.0032302,"main":false},
{"txt":"0.003233","p":0.0032107,"main":true},
{"txt":"0.002968","p":0.0029656,"main":true},
{"txt":"0.002704","p":0.0027035,"main":true}
]},
"layer":[
{"data":{"values":[{"from":13,"to":469,"hi":0.003292,"lo":0.00327}]},"mark":{"type":"rect","color":"#e0e0e0"},"encoding":{"x":{"field":"from","type":"quantitative","scale":{"domain":[-14,519.66],"nice":false,"zero":false,"padding":0},"axis":{"title":null,"grid":false,"domain":false,"ticks":false,"labelPadding":-13,"labelBaseline":"middle","labelFontSize":12,"labelFont":"Roboto","labelColor":"#131722","labelFlush":false,"labelOverlap":false,"labelBound":false,"values":[0,21,42,63,84,105,126,156,180,210,231,252,273,294,318,342,378,399,420,441,462,483],"labelFontWeight":{"condition":{"test":"datum.value==156||datum.value==342","value":"bold"},"value":"normal"},"labelExpr":"{'0':'5','21':'12:00','42':'12','63':'12:00','84':'19','105':'12:00','126':'26','156':'Jul','180':'5','210':'10','231':'12:00','252':'17','273':'12:00','294':'24','318':'28','342':'Aug','378':'7','399':'12:00','420':'14','441':'12:00','462':'21','483':'12:00'}[datum.value]"}},"x2":{"field":"to"},"y":{"field":"hi","type":"quantitative","scale":{"domain":[0.00240397,0.00356762],"nice":false,"zero":false},"axis":{"title":null,"orient":"right","grid":false,"domain":false,"ticks":false,"labelPadding":-9,"labelAlign":"right","labelFontSize":12,"labelFont":"Roboto","labelColor":"#131722","labelOverlap":false,"labelBound":false,"format":".6f","values":[0.00245,0.0025,0.00255,0.0026,0.00265,0.0027,0.00275,0.0028,0.00285,0.0029,0.00295,0.003,0.00305,0.0031,0.00315,0.0032,0.00325,0.0033,0.00335,0.0034,0.00345,0.0035]}},"y2":{"field":"lo"}}},
{"data":{"name":"candles"},"mark":{"type":"rule","color":"#000000","strokeWidth":1,"clip":true},"encoding":{"x":{"field":"b","type":"quantitative"},"y":{"field":"l","type":"quantitative"},"y2":{"field":"h"}}},
{"data":{"name":"candles"},"mark":{"type":"bar","orient":"vertical","width":2,"stroke":"#000000","strokeWidth":1,"clip":true},"encoding":{"x":{"field":"b","type":"quantitative"},"y":{"field":"o","type":"quantitative"},"y2":{"field":"c"},"fill":{"condition":{"test":"datum.c>datum.o","value":"#000000"},"value":"#ffffff"}}},
{"data":{"name":"levels"},"mark":{"type":"rule"},"encoding":{"x":{"field":"from","type":"quantitative"},"x2":{"field":"to"},"y":{"field":"p","type":"quantitative"},"color":{"field":"kind","type":"nominal","legend":null,"scale":{"domain":["purple","blue","black","red"],"range":["#7b0ff0","#0000ee","#000000","#d31212"]}},"size":{"field":"kind","type":"nominal","legend":null,"scale":{"type":"ordinal","domain":["purple","blue","black","red"],"range":[2,3,1,3.2]}}}},
{"data":{"name":"channel"},"mark":{"type":"rule","color":"#222222","strokeWidth":1,"strokeDash":[5,6]},"encoding":{"x":{"field":"b1","type":"quantitative"},"x2":{"field":"b2"},"y":{"field":"p1","type":"quantitative"},"y2":{"field":"p2"}}},
{"data":{"name":"sketch"},"mark":{"type":"line","color":"#e5383b","strokeWidth":1.2,"interpolate":"catmull-rom"},"encoding":{"x":{"field":"b","type":"quantitative"},"y":{"field":"p","type":"quantitative"},"detail":{"field":"id"},"order":{"field":"n","type":"quantitative"}}},
{"data":{"values":[{"b":415.3,"p":0.003283}]},"mark":{"type":"point","filled":true,"opacity":1,"color":"#e0353f","size":1848,"shape":"M-0.27,-0.5 L0.27,-0.5 L0.27,0.1 L0.5,0.1 L0,0.5 L-0.5,0.1 L-0.27,0.1 Z"},"encoding":{"x":{"field":"b","type":"quantitative"},"y":{"field":"p","type":"quantitative"}}},
{"data":{"values":[{"b":400.2,"p":0.0033086,"txt":"Next Trigger"}]},"mark":{"type":"text","color":"#d32f2f","font":"Noto Sans","fontSize":14.5,"fontWeight":"bold","baseline":"middle"},"encoding":{"x":{"field":"b","type":"quantitative"},"y":{"field":"p","type":"quantitative"},"text":{"field":"txt"}}},
{"data":{"name":"tags"},"mark":{"type":"rect"},"encoding":{"x":{"datum":503.4},"x2":{"datum":518.7},"y":{"field":"hi","type":"quantitative"},"y2":{"field":"lo"},"color":{"field":"kind","type":"nominal","legend":null,"scale":{"domain":["purple","blue","black","red"],"range":["#7b0ff0","#0000ee","#000000","#d31212"]}}}},
{"data":{"name":"tagText"},"mark":{"type":"text","align":"right","baseline":"middle","font":"Roboto","fontSize":12,"fontWeight":"bold"},"encoding":{"x":{"datum":517.4},"y":{"field":"p","type":"quantitative"},"text":{"field":"txt"},"color":{"condition":{"test":"datum.main","value":"#ffffff"},"value":"#b2b5be"}}},
{"data":{"values":[{"from":504.4,"to":518.7,"hi":0.003563,"lo":0.003535}]},"mark":{"type":"rect","fill":"#ffffff","stroke":"#e0e3eb","cornerRadius":4},"encoding":{"x":{"field":"from","type":"quantitative"},"x2":{"field":"to"},"y":{"field":"hi","type":"quantitative"},"y2":{"field":"lo"}}},
{"data":{"values":[{"b":506.6,"p":0.003549,"txt":"USDT"}]},"mark":{"type":"text","align":"left","baseline":"middle","font":"Roboto","fontSize":12,"color":"#131722"},"encoding":{"x":{"field":"b","type":"quantitative"},"y":{"field":"p","type":"quantitative"},"text":{"field":"txt"}}},
{"data":{"values":[{"b":-12,"p":0.0035512,"txt":"CKB / TetherUS, 4h, BINANCE"}]},"mark":{"type":"text","align":"left","baseline":"middle","font":"Roboto","fontSize":12,"color":"#434651"},"encoding":{"x":{"field":"b","type":"quantitative"},"y":{"field":"p","type":"quantitative"},"text":{"field":"txt"}}},
{"data":{"values":[{"b":-14,"p":0.0035829,"txt":"Trader_CT published on TradingView.com, Aug 13, 2023 17:34 UTC"}]},"mark":{"type":"text","align":"left","baseline":"middle","font":"Roboto","fontSize":12,"fontWeight":500,"color":"#d1d4dc"},"encoding":{"x":{"field":"b","type":"quantitative"},"y":{"field":"p","type":"quantitative"},"text":{"field":"txt"}}},
{"data":{"values":[{"b":-8.35,"p":0.0023828,"txt":"TradingView"}]},"mark":{"type":"text","align":"left","baseline":"middle","font":"Roboto","fontSize":12.5,"fontWeight":500,"color":"#d1d4dc"},"encoding":{"x":{"field":"b","type":"quantitative"},"y":{"field":"p","type":"quantitative"},"text":{"field":"txt"}}},
{"data":{"values":[{"b":-11.67,"p":0.0023828}]},"mark":{"type":"point","filled":true,"opacity":1,"color":"#d1d4dc","size":1600,"shape":"M-0.5,-0.28 L-0.03,-0.28 L-0.03,0.28 L-0.24,0.28 L-0.24,-0.06 L-0.5,-0.06 Z M0.02,-0.2 a0.09,0.09 0 1,0 0.18,0 a0.09,0.09 0 1,0 -0.18,0 Z M0.26,-0.28 L0.5,-0.28 L0.28,0.28 L0.03,0.28 Z"},"encoding":{"x":{"field":"b","type":"quantitative"},"y":{"field":"p","type":"quantitative"}}}
]}
